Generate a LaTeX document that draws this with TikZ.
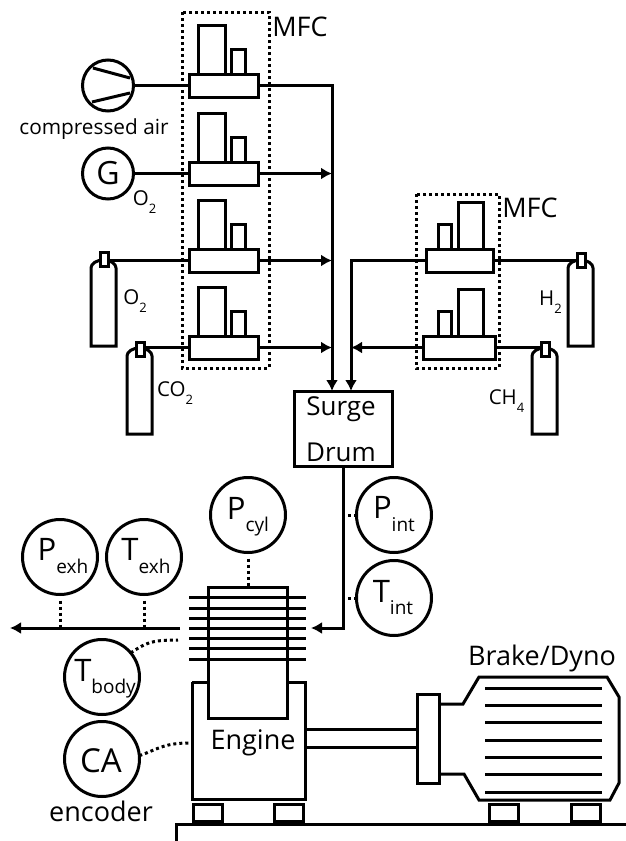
\documentclass[tikz,border=0pt]{standalone}
\usepackage{fontspec}
\setmainfont{Open Sans}
\usetikzlibrary{positioning}
\usetikzlibrary{calc}
\usetikzlibrary{arrows.meta}

\newcommand{\sz}[1]{\fontsize{#1}{#1}\selectfont}
% big letter with a lowered small subscript
\newcommand{\lowsub}[3]{#1\raisebox{#3}{\sz{19}#2}}
\newcommand{\gassub}[2]{#1\raisebox{-8pt}{\sz{13}#2}}

\tikzset{
    line/.style={line width=3pt},
    flow/.style={line width=3pt, -{Latex[length=11pt,width=12pt]}},
    dots/.style={line width=3pt, dash pattern=on 3pt off 3pt},
    box/.style={draw, line width=3pt, rectangle, inner sep=0pt, outer sep=0pt, fill=white},
    mfcbase/.style={box, minimum width=69pt, minimum height=23pt},
    gauge/.style={draw, line width=3pt, circle, inner sep=0pt, outer sep=0pt, minimum size=75pt},
    valvecap/.style={box, minimum width=8pt, minimum height=14pt},
    big/.style={inner sep=0pt, font=\sz{31}},
    gaslbl/.style={inner sep=0pt, font=\sz{20.5}},
    lbl/.style={inner sep=0pt, font=\sz{27}},
}

\begin{document}
\begin{tikzpicture}[x=1pt, y=-1pt]
    \useasboundingbox (0,0) rectangle (626,841);

    % MFC groups (dotted)
    \draw[dots] (182,12) rectangle (269,368);
    \draw[dots] (416,194) rectangle (499,368);
    \node[lbl] (mfcleft) at (300,27) {MFC};
    \node[lbl] (mfcright) at (530,208) {MFC};

    % left MFCs: tall and small column on each base
    \foreach \y/\n in {74/A,162/B,249/C,336/D} {
        \draw[line] (198,\y) rectangle (225,\y-49);
        \draw[line] (231,\y) rectangle (245,\y-25);
        \node[mfcbase, anchor=north west] (mfc\n) at (189,\y) {};
    }

    % right MFCs
    \foreach \y/\n in {249/E,336/F} {
        \draw[line] (458,\y) rectangle (483,\y-47);
        \draw[line] (438,\y) rectangle (451,\y-25);
    }
    \node[mfcbase, minimum width=67pt, anchor=north west] (mfcE) at (426,249) {};
    \node[mfcbase, minimum width=72pt, anchor=north west] (mfcF) at (423,336) {};

    % compressor and generator
    \node[gauge, minimum size=51pt] (comp) at (108,85.5) {};
    \draw[line] (93,68) -- (130,78);
    \draw[line] (92,102) -- (130,93);
    \node[gaslbl, font=\sz{20.8}] (complbl) at (94,129) {compressed air};
    \node[gauge, minimum size=51pt, font=\sz{32}] (gen) at (108,173.5) {G};
    \node[gaslbl] (genlbl) at (144.5,202) {\gassub{O}{2}};

    % gas bottles
    \foreach \x/\t/\n in {91/262/O,127/350/C,568/262/H,532/350/M} {
        \draw[line] (\x,\t+6) arc (180:360:12.5 and 8) -- (\x+25,\t+84) -- (\x,\t+84) -- cycle;
    }
    \node[valvecap] (capO) at (104,259) {};
    \node[valvecap] (capC) at (140,349) {};
    \node[valvecap] (capH) at (581,260) {};
    \node[valvecap] (capM) at (545,349) {};
    \node[gaslbl] (lblO) at (135,301.5) {\gassub{O}{2}};
    \node[gaslbl] (lblC) at (175,393) {\gassub{CO}{2}};
    \node[gaslbl] (lblH) at (550.5,302) {\gassub{H}{2}};
    \node[gaslbl] (lblM) at (506.5,401) {\gassub{CH}{4}};

    % surge drum
    \node[box, minimum width=98pt, minimum height=75pt] (drum) at (343,428.5) {};
    \node[lbl, font=\sz{26}] (surge) at (341,409) {Surge};
    \node[lbl, font=\sz{26}] (drumlbl) at (341,452) {Drum};

    % mixing lines
    \coordinate (joinA) at (332,86);
    \coordinate (joinE) at (351,260);
    \draw[line] (comp.east) -- (mfcA.west);
    \draw[line] (gen.east) -- (mfcB.west);
    \draw[line] (capO.east |- mfcC.west) -- (mfcC.west);
    \draw[line] (capC.east |- mfcD.west) -- (mfcD.west);
    \draw[flow] (mfcA.east) -| (joinA |- drum.north);
    \draw[flow] (mfcB.east) -- (mfcB.east -| joinA);
    \draw[flow] (mfcC.east) -- (mfcC.east -| joinA);
    \draw[flow] (mfcD.east) -- (mfcD.east -| joinA);
    \draw[flow] (mfcE.west) -| (joinE |- drum.north);
    \draw[flow] (mfcF.west) -- (mfcF.west -| joinE);
    \draw[line] (mfcE.east) -- (mfcE.east -| capH.west);
    \draw[line] (mfcF.east) -- (mfcF.east -| capM.west);

    % engine
    \node[box, draw=none, fill=none, minimum width=79pt, minimum height=131pt] (cyl) at (247.5,652.5) {};
    \draw[line] (192,682) -- (192,799) -- (305,799) -- (305,682) -- (287,682);
    \draw[line] (192,682) -- (208,682);
    \draw[line] (cyl.north west) rectangle (cyl.south east);
    \foreach \y in {597,608,618,628,638,648,659} {
        \draw[line] (189,\y) -- (306,\y);
    }
    \node[lbl] (engine) at (253,743) {Engine};
    \node[box, minimum width=29pt, minimum height=17pt] (footA) at (207.5,812.5) {};
    \node[box, minimum width=29pt, minimum height=17pt] (footB) at (289,812.5) {};

    % sensors
    \node[gauge] (pcyl) at (248,515) {};
    \node[gauge] (pexh) at (60,557) {};
    \node[gauge] (texh) at (144,557) {};
    \node[gauge] (tbody) at (102,677) {};
    \node[gauge] (ca) at (102,759) {};
    \node[gauge] (pint) at (394,515) {};
    \node[gauge] (tint) at (394,598) {};
    \node[big, anchor=base] (lblpcyl) at (248,519) {\lowsub{P}{cyl}{-12pt}};
    \node[big, anchor=base] (lblpexh) at (63,560) {\lowsub{P}{exh}{-13pt}};
    \node[big, anchor=base] (lbltexh) at (146,560) {\lowsub{T}{exh}{-13pt}};
    \node[big, anchor=base] (lbltbody) at (105,681) {\lowsub{T}{body}{-12pt}};
    \node[big, anchor=base] (lblpint) at (394,518) {\lowsub{P}{int}{-13pt}};
    \node[big, anchor=base] (lbltint) at (393,602) {\lowsub{T}{int}{-12pt}};
    \node[big, anchor=base, font=\sz{33}] (lblca) at (101,772) {CA};
    \node[lbl] (encoder) at (101,811) {encoder};

    % intake and exhaust
    \coordinate (intk) at (311,628);
    \coordinate (exh) at (180,628);
    \coordinate (exhend) at (10,628);
    \draw[flow] (drum.south) |- (intk);
    \draw[flow] (exh) -- (exhend);

    % sensor taps
    \draw[dots] (pcyl.south) ++(0,6) -- (cyl.north -| pcyl);
    \draw[dots] (pexh.south) ++(0,6) -- (pexh |- exh);
    \draw[dots] (texh.south) ++(0,6) -- (texh |- exh);
    \draw[dots] (pint.west) -- (pint.west -| drum.south);
    \draw[dots] (tint.west) -- (tint.west -| drum.south);
    \draw[dots] (tbody.40) .. controls (146,643) and (150,640) .. (178,640);
    \draw[dots] (ca.5) .. controls (160,748) and (165,743) .. (190,743);

    % brake/dyno
    \node[lbl] (brakelbl) at (542,658) {Brake/Dyno};
    \draw[line, fill=white] (440,704) -- (463,704) -- (479,677) -- (607,677) -- (619,697) -- (619,783) -- (610,800) -- (479,800) -- (464,774) -- (440,774);
    \foreach \y in {688,705,722,740,757,774,792} {
        \draw[line] (485,\y) -- (602,\y);
    }
    \node[box, minimum width=22pt, minimum height=89pt] (coupling) at (428,738.5) {};
    \draw[line] (305,729) -- (coupling.west |- 0,729);
    \draw[line] (305,747) -- (coupling.west |- 0,747);
    \node[box, minimum width=29pt, minimum height=17pt] (footC) at (503.5,812.5) {};
    \node[box, minimum width=29pt, minimum height=17pt] (footD) at (585.5,812.5) {};

    % ground
    \coordinate (grnd) at (176,824);
    \draw[line] (176,841) -- (grnd) -- (626,824);
\end{tikzpicture}
\end{document}
